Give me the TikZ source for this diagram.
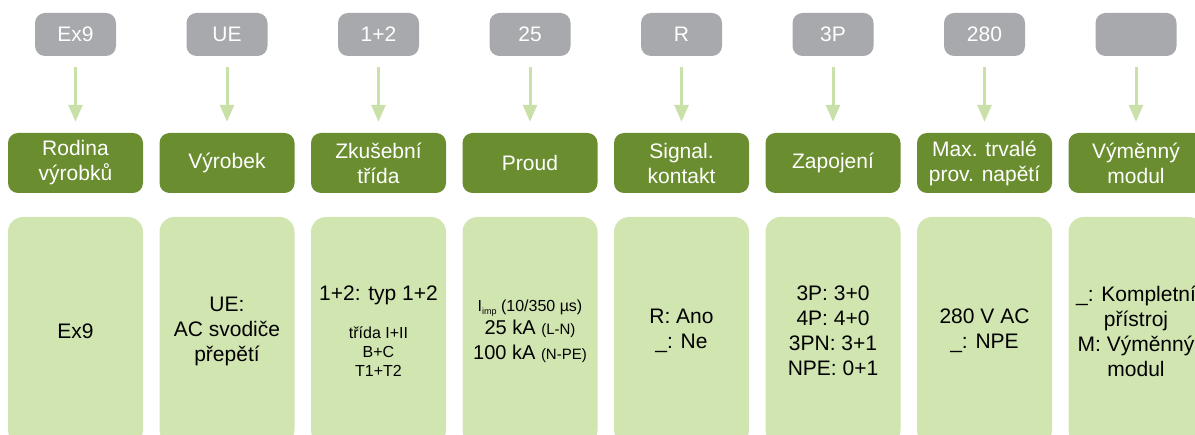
\documentclass[tikz,border=0pt]{standalone}
\usepackage{fontspec}
\setmainfont{Liberation Sans}
\usetikzlibrary{arrows.meta}
\definecolor{codegrey}{HTML}{A7A9AC}
\definecolor{headgreen}{HTML}{6A8E2F}
\definecolor{bodygreen}{HTML}{D1E5B1}
\definecolor{arrowgreen}{HTML}{C9E0A9}
\begin{document}
\begin{tikzpicture}[x=1pt,y=-1pt,
	codebox/.style={fill=codegrey,rounded corners=10pt,minimum width=81pt,minimum height=43pt,inner sep=0pt,text=white,font=\fontsize{21}{25}\selectfont},
	headbox/.style={fill=headgreen,rounded corners=10pt,minimum width=135pt,minimum height=60pt,inner sep=0pt,text=white,align=center,font=\fontsize{21}{25}\selectfont},
	bodybox/.style={fill=bodygreen,rounded corners=15pt,minimum width=135pt,minimum height=228pt,inner sep=0pt,align=center,font=\fontsize{21}{25}\selectfont},
	pickarrow/.style={draw=arrowgreen,line width=3pt,-{Triangle[width=14pt,length=17pt]},shorten <=11pt,shorten >=11pt}]
		\useasboundingbox (0,0) rectangle (1195,435);
		\clip (0,0) rectangle (1195,435);
		%code row
		\node[codebox] (Ex9) at (75.5,34.5) {Ex9};
		\node[codebox] (UE) at (227,34.5) {UE};
		\node[codebox] (Typ) at (378.5,34.5) {1+2};
		\node[codebox] (Amp) at (530,34.5) {25};
		\node[codebox] (Rel) at (681.5,34.5) {R};
		\node[codebox] (Pole) at (833,34.5) {3P};
		\node[codebox] (Volt) at (984.5,34.5) {280};
		\node[codebox] (Blank) at (1136,34.5) {};
		%headers
		\node[headbox] (Family) at (75.5,163) {Rodina\\výrobků};
		\node[headbox] (Product) at (227,163) {Výrobek};
		\node[headbox] (Class) at (378.5,163) {Zkušební\\třída};
		\node[headbox] (Current) at (530,163) {Proud};
		\node[headbox] (Signal) at (681.5,163) {Signal.\\kontakt};
		\node[headbox] (Wiring) at (833,163) {Zapojení};
		\node[headbox] (Voltage) at (984.5,163) {Max. trvalé\\prov. napětí};
		\node[headbox] (Module) at (1136,163) {Výměnný\\modul};
		%values
		\node[bodybox] (FamilyVal) at (75.5,331) {Ex9};
		\node[bodybox] (ProductVal) at (227,331) {UE:\\AC svodiče\\přepětí};
		\node[bodybox] (ClassVal) at (378.5,331) {1+2: typ 1+2\\[13pt]
			\fontsize{16}{19}\selectfont třída I+II\\[-6pt]
			\fontsize{16}{19}\selectfont B+C\\[-5.5pt]
			\fontsize{16}{19}\selectfont T1+T2};
		\node[bodybox] (CurrentVal) at (530,331) {\fontsize{16}{19}\selectfont I\raisebox{-3pt}{\fontsize{9}{9}\selectfont imp} (10/350 µs)\\[-2pt]
			\fontsize{20}{25}\selectfont 25 kA {\fontsize{15}{18}\selectfont (L-N)}\\
			\fontsize{20}{25}\selectfont 100 kA {\fontsize{15}{18}\selectfont (N-PE)}};
		\node[bodybox] (SignalVal) at (681.5,331) {R: Ano\\\_: Ne};
		\node[bodybox] (WiringVal) at (833,331) {3P: 3+0\\4P: 4+0\\3PN: 3+1\\NPE: 0+1};
		\node[bodybox] (VoltageVal) at (984.5,331) {280 V AC\\\_: NPE};
		\node[bodybox] (ModuleVal) at (1136,331) {\_: Kompletní\\přístroj\\M: Výměnný\\modul};
		%arrows
		\draw[pickarrow] (Ex9) -- (Family);
		\draw[pickarrow] (UE) -- (Product);
		\draw[pickarrow] (Typ) -- (Class);
		\draw[pickarrow] (Amp) -- (Current);
		\draw[pickarrow] (Rel) -- (Signal);
		\draw[pickarrow] (Pole) -- (Wiring);
		\draw[pickarrow] (Volt) -- (Voltage);
		\draw[pickarrow] (Blank) -- (Module);
	\end{tikzpicture}
\end{document}
